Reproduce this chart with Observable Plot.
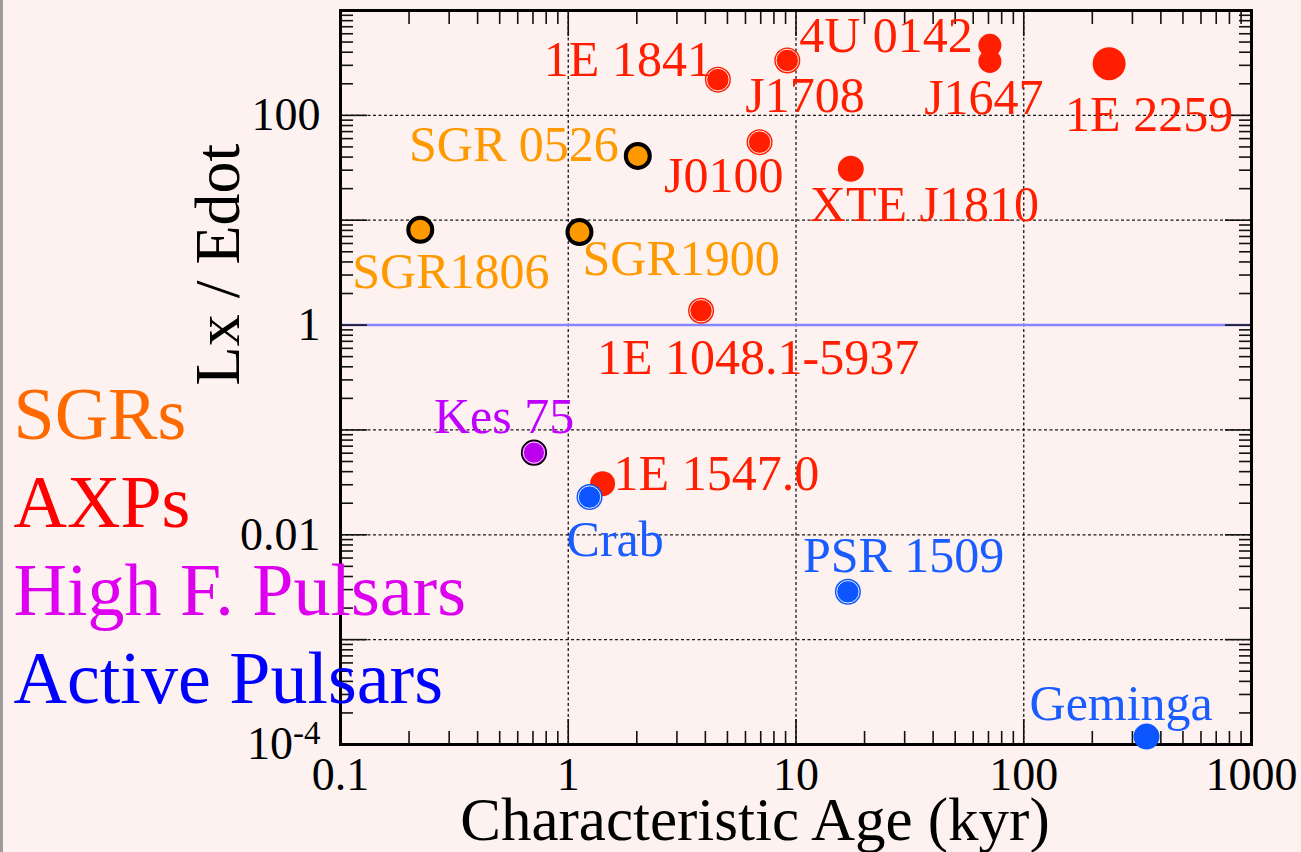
<!DOCTYPE html>
<html>
<head>
<meta charset="utf-8">
<script src="https://cdn.jsdelivr.net/npm/d3@7"></script>
<script src="https://cdn.jsdelivr.net/npm/@observablehq/plot@0.6"></script>
<style>
  html, body { margin: 0; padding: 0; background: #fdf2f0; }
  #chart { position: relative; width: 1301px; height: 852px; overflow: hidden; }
  #edge { position: absolute; left: 0; top: 0; width: 3px; height: 852px; background: #9c9c9c; }
</style>
</head>
<body>
<div id="chart"><div id="edge"></div></div>
<script>
// Magnetars and rotation-powered pulsars: X-ray luminosity over spin-down power vs. characteristic age
const names = ["SGR1806", "SGR1900", "SGR 0526", "1E 1841", "J1708", "4U 0142", "J1647", "1E 2259",
               "J0100", "XTE J1810", "1E 1048.1-5937", "1E 1547.0", "Kes 75", "Crab", "PSR 1509", "Geminga"];
const kinds = ["SGR", "SGR", "SGR", "AXP", "AXP", "AXP", "AXP", "AXP",
               "AXP", "AXP", "AXP", "AXP", "HFP", "PSR", "PSR", "PSR"];
const ageKyr = [0.224, 1.12, 2.02, 4.54, 9.16, 71, 71, 237,
                6.92, 17.4, 3.83, 1.415, 0.707, 1.24, 16.9, 346];
const lxOverEdot = [8.1, 7.7, 41, 219, 334, 465, 327, 311,
                    55.5, 30.9, 1.37, 0.0307, 0.0607, 0.0229, 0.00286, 1.19e-4];

const legendLabels = ["SGRs", "AXPs", "High F. Pulsars", "Active Pulsars"];
const xTicks = [0.1, 1, 10, 100, 1000];
const xTickLabels = ["0.1", "1", "10", "100", "1000"];
const yDecades = [1e-4, 1e-3, 1e-2, 0.1, 1, 10, 100, 1000];
const yLabelled = [1e-4, 1e-2, 1, 100];
const yTickLabels = ["10^-4", "0.01", "1", "100"];

// ---- styling ----
const serif = "'Liberation Serif', 'Times New Roman', Times, serif";
const dotColor = {SGR: "#ff9900", AXP: "#ff1e00", HFP: "#bb00ee", PSR: "#0d55ff"};
const textColor = {SGR: "#ff9900", AXP: "#ff1e00", HFP: "#c000ff", PSR: "#1a5cff"};
const legendColor = ["#ff6a00", "#ff0000", "#dd00ee", "#0000ff"];
const ringed = new Set(["1E 1841", "J1708", "J0100", "1E 1048.1-5937", "Crab", "PSR 1509"]);
const dotRadius = {"4U 0142": 11.5, "J1647": 11.5, "1E 2259": 16.5, "1E 1547.0": 12.5};
const labelPlacement = {
  "SGR1806": {dx: -68, dy: 58, anchor: "start"},
  "SGR1900": {dx: 3, dy: 43, anchor: "start"},
  "SGR 0526": {dx: -19, dy: 5, anchor: "end"},
  "1E 1841": {dx: -6, dy: -4, anchor: "end"},
  "J1708": {dx: -42, dy: 52, anchor: "start"},
  "4U 0142": {dx: -17, dy: 7, anchor: "end"},
  "J1647": {dx: -6, dy: 53, anchor: "middle"},
  "1E 2259": {dx: -44, dy: 67, anchor: "start"},
  "J0100": {dx: 24, dy: 50, anchor: "end"},
  "XTE J1810": {dx: -41, dy: 52, anchor: "start"},
  "1E 1048.1-5937": {dx: -104, dy: 63, anchor: "start"},
  "1E 1547.0": {dx: 11, dy: 6, anchor: "start"},
  "Kes 75": {dx: -100, dy: -20, anchor: "start"},
  "Crab": {dx: -23, dy: 59, anchor: "start"},
  "PSR 1509": {dx: -45, dy: -20, anchor: "start"},
  "Geminga": {dx: -117, dy: -17, anchor: "start"}
};

const sources = names.map((name, i) => ({name, kind: kinds[i], age: ageKyr[i], ratio: lxOverEdot[i]}));

// minor ticks at 2..9 within each decade
const minorOf = (lo, hi) => {
  const out = [];
  for (let e = lo; e < hi; e++) for (let k = 2; k <= 9; k++) out.push(k * Math.pow(10, e));
  return out;
};
const xMinor = minorOf(-1, 3);
const yMinor = minorOf(-4, 3);

function markerMarks(d) {
  const xy = {x: "age", y: "ratio"};
  if (d.kind === "SGR") {
    return [Plot.dot([d], {...xy, r: 12, fill: dotColor.SGR, stroke: "black", strokeWidth: 4})];
  }
  if (d.kind === "HFP") {
    return [
      Plot.dot([d], {...xy, r: 12.3, fill: dotColor.HFP, stroke: "black", strokeWidth: 1.6}),
      Plot.dot([d], {...xy, r: 10.6, fill: "none", stroke: "white", strokeWidth: 1, strokeOpacity: 0.85})
    ];
  }
  const r = dotRadius[d.name] ?? 13;
  const marks = [Plot.dot([d], {...xy, r, fill: dotColor[d.kind]})];
  if (ringed.has(d.name)) {
    marks.push(Plot.dot([d], {...xy, r: r - 1.8, fill: "none", stroke: "white", strokeWidth: 1, strokeOpacity: 0.9}));
  }
  return marks;
}

function labelMark(d) {
  const p = labelPlacement[d.name];
  return Plot.text([d], {
    x: "age", y: "ratio", text: "name",
    dx: p.dx, dy: p.dy, textAnchor: p.anchor, lineAnchor: "bottom",
    fill: textColor[d.kind], fontSize: 50, fontFamily: serif
  });
}

const order = ["SGR", "AXP", "HFP", "PSR"];
const drawOrder = order.flatMap(k => sources.filter(d => d.kind === k));

const tickStyle = {stroke: "#111", strokeWidth: 1.6, label: null, tickFormat: () => ""};

const chart = Plot.plot({
  width: 1301,
  height: 852,
  marginLeft: 340,
  marginRight: 50,
  marginTop: 10,
  marginBottom: 108,
  style: {background: "transparent", fontFamily: serif, overflow: "visible", color: "black"},
  x: {type: "log", domain: [0.1, 1000]},
  y: {type: "log", domain: [1e-4, 1000]},
  marks: [
    // decade grid
    Plot.gridX([1, 10, 100], {stroke: "#000", strokeOpacity: 0.9, strokeWidth: 1.3, strokeDasharray: "3,2.5"}),
    Plot.gridY([1e-3, 1e-2, 0.1, 1, 10, 100], {stroke: "#000", strokeOpacity: 0.9, strokeWidth: 1.3, strokeDasharray: "3,2.5"}),
    // Lx = Edot
    Plot.ruleY([1], {stroke: "#8585ff", strokeWidth: 2.5}),
    // inward ticks on all four sides
    Plot.axisX(xTicks, {anchor: "bottom", tickSize: -25, ...tickStyle}),
    Plot.axisX(xTicks, {anchor: "top", tickSize: -25, ...tickStyle}),
    Plot.axisX(xMinor, {anchor: "bottom", tickSize: -13, ...tickStyle}),
    Plot.axisX(xMinor, {anchor: "top", tickSize: -13, ...tickStyle}),
    Plot.axisY(yDecades, {anchor: "left", tickSize: -27, ...tickStyle}),
    Plot.axisY(yDecades, {anchor: "right", tickSize: -27, ...tickStyle}),
    Plot.axisY(yMinor, {anchor: "left", tickSize: -13, ...tickStyle}),
    Plot.axisY(yMinor, {anchor: "right", tickSize: -13, ...tickStyle}),
    // tick labels
    Plot.axisX(xTicks, {anchor: "bottom", tickSize: 0, tickPadding: 13, fontSize: 46, fill: "black", label: null,
      tickFormat: d => xTickLabels[xTicks.indexOf(d)]}),
    Plot.axisY(yLabelled, {anchor: "left", tickSize: 0, tickPadding: 20, fontSize: 46, fill: "black", label: null,
      tickFormat: d => yTickLabels[yLabelled.indexOf(d)]}),
    Plot.frame({stroke: "black", strokeWidth: 3}),
    // axis titles
    Plot.text(["Characteristic Age (kyr)"], {frameAnchor: "bottom", dx: -41, dy: 95, textAnchor: "middle",
      lineAnchor: "bottom", fontSize: 61, fill: "black", fontFamily: serif}),
    Plot.text(["Lx / Edot"], {frameAnchor: "left", rotate: -90, dx: -102, dy: -113, textAnchor: "middle",
      lineAnchor: "bottom", fontSize: 64, fill: "black", fontFamily: serif}),
    // sources
    ...drawOrder.flatMap(markerMarks),
    ...drawOrder.map(labelMark),
    // class key at the left
    ...legendLabels.map((label, i) => Plot.text([label], {
      frameAnchor: "top-left", dx: -327, dy: 428 + 88 * i, textAnchor: "start", lineAnchor: "bottom",
      fontSize: 74, fill: legendColor[i], fontFamily: serif
    }))
  ]
});

// superscript exponent on the 10^-4 label
chart.querySelectorAll("text").forEach(t => {
  const s = t.textContent;
  if (s.includes("^") && t.childElementCount === 0) {
    const [base, exp] = s.split("^");
    t.textContent = base;
    const sup = document.createElementNS("http://www.w3.org/2000/svg", "tspan");
    sup.setAttribute("dy", "-15");
    sup.setAttribute("font-size", "33");
    sup.textContent = exp;
    t.appendChild(sup);
  }
});

document.getElementById("chart").appendChild(chart);
</script>
</body>
</html>
